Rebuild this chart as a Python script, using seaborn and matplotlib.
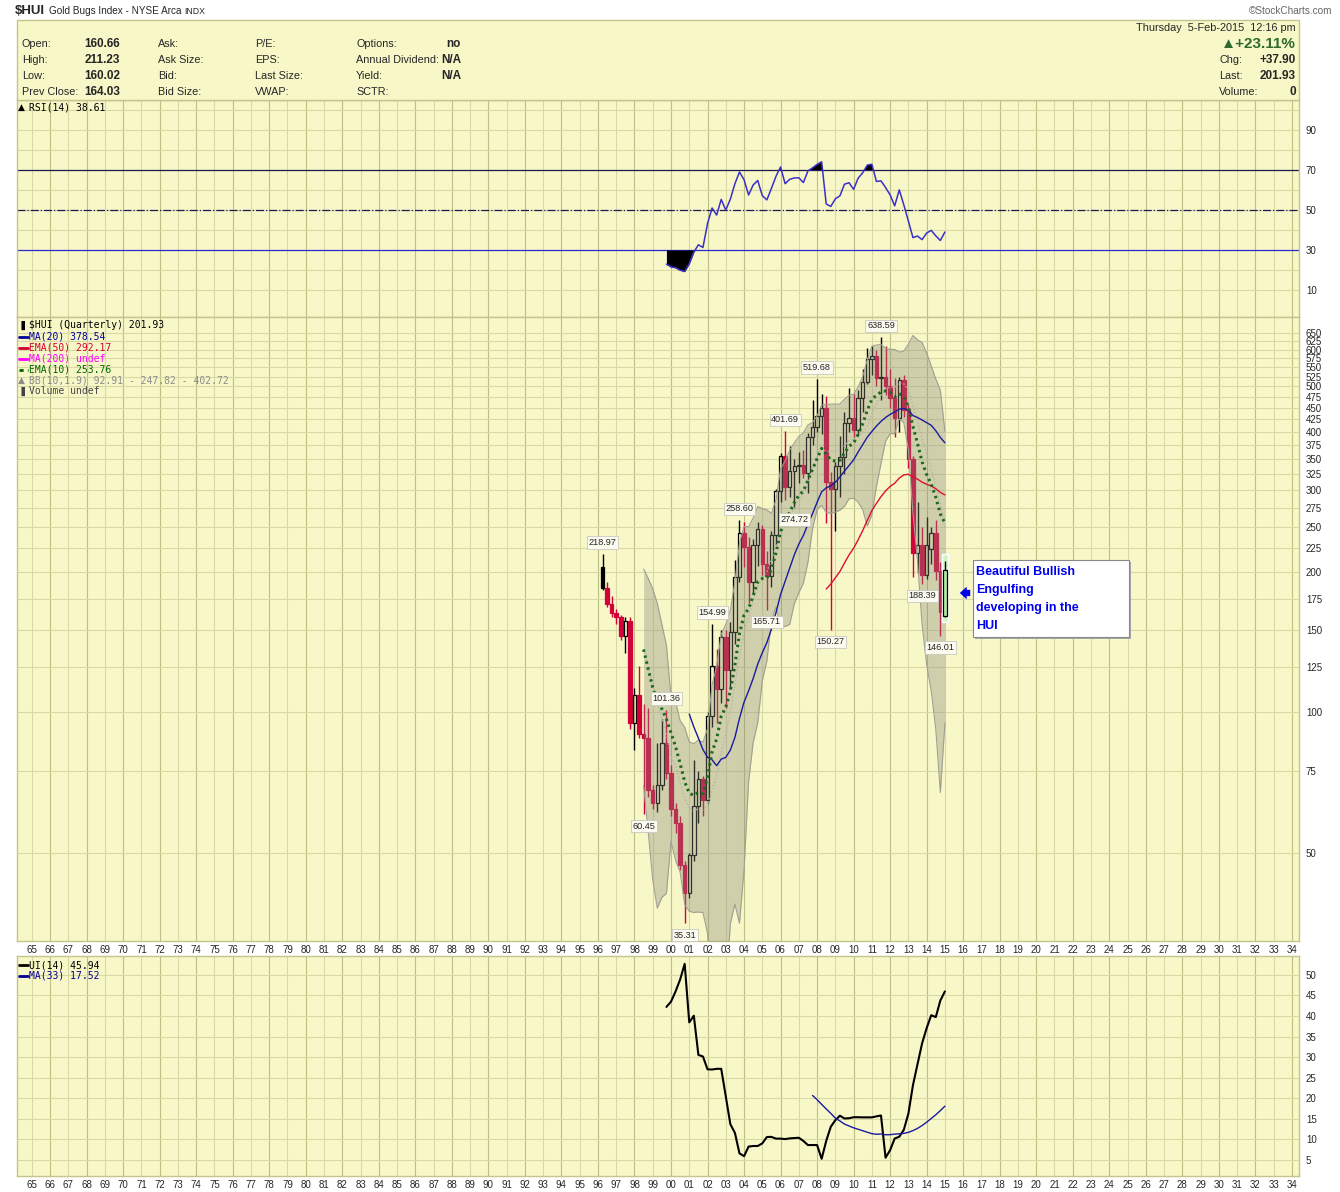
import numpy as np
import pandas as pd
import seaborn as sns
import matplotlib.pyplot as plt
from matplotlib.lines import Line2D
from matplotlib.patches import Rectangle

# Quarterly $HUI candles, 1996 Q2 .. 2015 Q1
quarters = pd.period_range('1996Q2', '2015Q1', freq='Q')

opens = [205, 185, 171, 163, 160, 146, 157, 95, 109, 90,
         88, 68, 64, 70, 86, 74, 62, 58, 47, 41,
         49.5, 63, 72, 65, 98, 126, 112, 145, 123, 149,
         195, 242, 226, 190, 228, 247, 208, 196, 240, 298,
         355, 305, 330, 338, 339, 326, 390, 409, 432, 450,
         312, 301, 338, 353, 418, 427, 404, 472, 510, 573,
         580, 520, 524, 500, 472, 427, 515, 445, 350, 220,
         228, 197, 224, 242, 201, 160.66]
highs = [218.97, 190, 178, 167, 162, 160, 160, 113, 126, 104,
         102, 70, 86, 97, 101.36, 77, 64, 60, 48, 50,
         79, 75, 73, 100, 154.99, 137, 150, 150, 156, 212,
         258.60, 256, 238, 235, 256, 252, 222, 245, 302, 360,
         401.69, 372, 350, 362, 365, 398, 468, 519.68, 482, 476,
         328, 345, 392, 440, 495, 482, 492, 545, 605, 610,
         600, 638.59, 610, 545, 520, 525, 530, 458, 355, 282,
         250, 262, 250, 258, 210, 211.23]
lows = [183, 168, 160, 155, 143, 134, 92, 83, 88, 60.45,
        66, 62, 61, 68, 72, 60, 55, 46, 35.31, 40,
        48, 58, 60, 64, 93, 95, 105, 102, 112, 140,
        190, 205, 172, 180, 206, 195, 165.71, 186, 228, 282,
        285, 290, 274.72, 310, 318, 295, 375, 400, 395, 255,
        150.27, 245, 290, 325, 400, 390, 392, 440, 505, 530,
        500, 468, 480, 450, 390, 400, 430, 335, 195, 199,
        188.39, 193, 208, 192, 146.01, 160.02]
closes = [185, 171, 163, 160, 146, 157, 95, 109, 90, 88,
          68, 64, 70, 86, 74, 62, 58, 47, 41, 49.5,
          63, 72, 65, 98, 126, 112, 145, 123, 149, 195,
          242, 226, 190, 228, 247, 208, 196, 240, 298, 355,
          305, 330, 338, 339, 326, 390, 409, 432, 450, 312,
          301, 338, 353, 418, 427, 404, 472, 510, 573, 580,
          520, 524, 500, 472, 427, 515, 445, 350, 220, 228,
          197, 229, 242, 201, 164.03, 201.93]

# candles whose high / low carry a value tag
high_marks = [0, 14, 24, 30, 40, 47, 61]
low_marks = [9, 18, 36, 42, 50, 70, 74]

price_ticks = [50, 75, 100, 125, 150, 175, 200, 225, 250, 275, 300, 325, 350,
               375, 400, 425, 450, 475, 500, 525, 550, 575, 600, 625, 650]
rsi_ticks = [10, 30, 50, 70, 90]
ui_ticks = [5, 10, 15, 20, 25, 30, 35, 40, 45, 50]
years = list(range(1965, 2035))

header_left = [
    [('Open:', 22, False), ('160.66', 120, True), ('Ask:', 158, False), ('P/E:', 255, False),
     ('Options:', 356, False), ('no', 461, True)],
    [('High:', 22, False), ('211.23', 120, True), ('Ask Size:', 158, False), ('EPS:', 255, False),
     ('Annual Dividend:', 356, False), ('N/A', 461, True)],
    [('Low:', 22, False), ('160.02', 120, True), ('Bid:', 158, False), ('Last Size:', 255, False),
     ('Yield:', 356, False), ('N/A', 461, True)],
    [('Prev Close:', 22, False), ('164.03', 120, True), ('Bid Size:', 158, False), ('VWAP:', 255, False),
     ('SCTR:', 356, False)],
]
header_right = [('Chg:', '+37.90'), ('Last:', '201.93'), ('Volume:', '0')]

BG = '#f8f7c8'
GRID = '#d9d9a6'
GRID_MAJOR = '#bcc082'
EDGE = '#c4c48c'
RED = '#d4003a'

# ---- indicators (StockCharts style) ----
df = pd.DataFrame({'x': [p.year + (p.quarter - 1) / 4 for p in quarters],
                   'open': opens, 'high': highs, 'low': lows, 'close': closes})
c = df['close']


def ema(s, n):
    out = pd.Series(np.nan, index=s.index)
    out.iloc[n - 1] = s.iloc[:n].mean()
    k = 2 / (n + 1)
    for i in range(n, len(s)):
        out.iloc[i] = s.iloc[i] * k + out.iloc[i - 1] * (1 - k)
    return out


df['ma20'] = c.rolling(20).mean()
df['ema50'] = ema(c, 50)
df['ema10'] = ema(c, 10)
df['bb_mid'] = c.rolling(10).mean()
sd = c.rolling(10).std(ddof=0)
df['bb_up'] = df['bb_mid'] + 1.9 * sd
df['bb_lo'] = df['bb_mid'] - 1.9 * sd

# RSI(14), Wilder smoothing
delta = c.diff()
gain = delta.clip(lower=0)
loss = -delta.clip(upper=0)
ag = pd.Series(np.nan, index=c.index)
al = pd.Series(np.nan, index=c.index)
ag.iloc[14] = gain.iloc[1:15].mean()
al.iloc[14] = loss.iloc[1:15].mean()
for i in range(15, len(c)):
    ag.iloc[i] = (ag.iloc[i - 1] * 13 + gain.iloc[i]) / 14
    al.iloc[i] = (al.iloc[i - 1] * 13 + loss.iloc[i]) / 14
df['rsi'] = 100 - 100 / (1 + ag / al)

# Ulcer index(14): drawdown from the running high inside each 14-bar window
cv = c.values
ui = np.full(len(cv), np.nan)
for i in range(14, len(cv)):
    w = cv[i - 13:i + 1]
    dd = 100 * (w / np.maximum.accumulate(w) - 1)
    ui[i] = np.sqrt(np.mean(dd ** 2))
df['ui'] = ui
df['ui_ma'] = df['ui'].rolling(33).mean()

# ---- figure ----
sns.set_style('white')
plt.rcParams['font.family'] = ['Liberation Sans', 'DejaVu Sans']
W, H = 1340, 1192
fig = plt.figure(figsize=(W / 100, H / 100), dpi=100)
fig.patch.set_facecolor('white')


def fx(x):
    return x / W


def fy(y):
    return 1 - y / H


def box(top, bottom, left=16.5, right=1299):
    return [fx(left), fy(bottom), (right - left) / W, (bottom - top) / H]


# header panel
fig.add_artist(Rectangle((fx(16.5), fy(99.5)), (1299 - 16.5) / W, (99.5 - 20) / H,
                         transform=fig.transFigure, facecolor=BG, edgecolor=EDGE, lw=1))
fig.text(fx(15), fy(11), '$HUI', fontsize=9.5, fontweight='bold', va='center')
fig.text(fx(49), fy(11), 'Gold Bugs Index - NYSE Arca', fontsize=7.2, va='center')
fig.text(fx(184), fy(11.5), 'INDX', fontsize=6.3, va='center')
fig.text(fx(1332), fy(11), '\u00a9StockCharts.com', fontsize=7.2, color='#666666',
         ha='right', va='center')
for row, yy in zip(header_left, [44, 60, 76, 92]):
    for txt, xx, bold in row:
        fig.text(fx(xx), fy(yy), txt, fontsize=8.5 if bold else 7.8,
                 fontweight='bold' if bold else 'normal',
                 ha='right' if bold else 'left', va='center')
fig.text(fx(1296), fy(28), 'Thursday  5-Feb-2015  12:16 pm', fontsize=7.8, ha='right', va='center')
fig.text(fx(1296), fy(44), '\u25b2+23.11%', fontsize=11, fontweight='bold', color='#2f6b2f',
         ha='right', va='center')
for (lab, val), yy in zip(header_right, [60, 76, 92]):
    fig.text(fx(1219), fy(yy), lab, fontsize=7.8, va='center')
    fig.text(fx(1296), fy(yy), val, fontsize=8.5, fontweight='bold', ha='right', va='center')

ax_rsi = fig.add_axes(box(99.5, 317))
ax = fig.add_axes(box(317, 941), sharex=ax_rsi)
ax_ui = fig.add_axes(box(956, 1176), sharex=ax_rsi)

ax.set_yscale('log')
ax.set_xlim(1964.16, 2034.39)
ax_rsi.set_ylim(-3.5, 105.25)
ax.set_ylim(32.34, 704.5)
ax_ui.set_ylim(1.1, 54.6)

for a in (ax_rsi, ax, ax_ui):
    a.set_facecolor(BG)
    for s in a.spines.values():
        s.set_color(EDGE)
        s.set_linewidth(1)
    for yr in years:
        a.axvline(yr, color=GRID_MAJOR if yr % 2 == 0 else GRID, lw=0.8, zorder=0.5)
    a.yaxis.tick_right()
    a.tick_params(axis='both', length=0, labelsize=7, pad=5)
    a.set_xticks(years)
    a.set_xticklabels(['%02d' % (yr % 100) for yr in years])

ax_rsi.tick_params(labelbottom=False)
ax.tick_params(axis='x', pad=3)
ax_ui.tick_params(axis='x', pad=3)

# ---- RSI panel ----
for v in range(10, 101, 10):
    ax_rsi.axhline(v, color=GRID, lw=0.8, zorder=0.5)
ax_rsi.set_yticks(rsi_ticks)
ax_rsi.set_yticklabels([str(v) for v in rsi_ticks])
ax_rsi.axhline(70, color='#1c1c50', lw=0.9, zorder=1)
ax_rsi.axhline(50, color='#1c1c50', lw=0.9, ls='-.', zorder=1)
ax_rsi.axhline(30, color='#2a2ad0', lw=0.9, zorder=1)
r = df.dropna(subset=['rsi'])
ax_rsi.fill_between(r['x'], r['rsi'], 70, where=r['rsi'] > 70, interpolate=True,
                    color='black', lw=0, zorder=2)
ax_rsi.fill_between(r['x'], r['rsi'], 30, where=r['rsi'] < 30, interpolate=True,
                    color='black', lw=0, zorder=2)
sns.lineplot(data=r, x='x', y='rsi', ax=ax_rsi, color='#3a30c8', lw=1.1, zorder=3)

# ---- price panel ----
for v in price_ticks:
    ax.axhline(v, color=GRID, lw=0.8, zorder=0.5)
ax.set_yticks(price_ticks)
ax.set_yticklabels([str(v) for v in price_ticks])
ax.yaxis.set_minor_locator(plt.NullLocator())

x = df['x'].values
o, h, l, cl = (df[k].values for k in ('open', 'high', 'low', 'close'))
prev = np.r_[cl[0], cl[:-1]]
col = np.where(cl >= prev, 'black', RED)
top = np.maximum(o, cl)
bot = np.minimum(o, cl)
hollow = cl > o
face = np.where(hollow, 'none', col).tolist()

# current-quarter highlight
ax.bar(x[-1], h[-1] * 1.035 - l[-1] * 0.975, bottom=l[-1] * 0.975, width=0.34,
       color='#d2f6c0', zorder=3.5)

ax.vlines(x[:-1], top[:-1], h[:-1], colors=col[:-1], lw=1, zorder=2)
ax.vlines(x[:-1], l[:-1], bot[:-1], colors=col[:-1], lw=1, zorder=2)
ax.vlines(x[-1:], l[-1:], h[-1:], colors='black', lw=1, zorder=3.6)
ax.bar(x[:-1], np.maximum(top - bot, 0.6)[:-1], bottom=bot[:-1], width=0.19,
       color=face[:-1], edgecolor=col[:-1], lw=0.9, zorder=2.2)
ax.bar(x[-1], top[-1] - bot[-1], bottom=bot[-1], width=0.19, color='#b4eea0',
       edgecolor='black', lw=0.9, zorder=3.7)

b = df.dropna(subset=['bb_up'])
ax.fill_between(b['x'], b['bb_lo'], b['bb_up'], color='#8a8a7c', alpha=0.36, lw=0, zorder=3)
ax.plot(b['x'], b['bb_up'], color='#a0a092', lw=0.8, zorder=3.1)
ax.plot(b['x'], b['bb_lo'], color='#a0a092', lw=0.8, zorder=3.1)
sns.lineplot(data=b, x='x', y='bb_mid', ax=ax, color='#b4b4a8', lw=1, ls=(0, (1, 1.5)), zorder=3.2)
sns.lineplot(data=df.dropna(subset=['ma20']), x='x', y='ma20', ax=ax, color='#1a1aa0', lw=1, zorder=4)
sns.lineplot(data=df.dropna(subset=['ema50']), x='x', y='ema50', ax=ax, color='#dd1030', lw=1, zorder=4)
sns.lineplot(data=df.dropna(subset=['ema10']), x='x', y='ema10', ax=ax, color='#1d6a1d', lw=2.2,
             ls=(0, (0.8, 1.2)), zorder=4.2)

tag = dict(fontsize=6.6, ha='center', va='center', zorder=6,
           bbox=dict(boxstyle='square,pad=0.18', fc='#fbfbf0', ec='#c8c8c0', lw=0.6))
for i in high_marks:
    ax.annotate('%.2f' % h[i], (x[i], h[i]), xytext=(0, 8), textcoords='offset points', **tag)
for i in low_marks:
    ax.annotate('%.2f' % l[i], (x[i], l[i]), xytext=(0, -8.5), textcoords='offset points', **tag)

# ---- Ulcer index panel ----
for v in ui_ticks:
    ax_ui.axhline(v, color=GRID, lw=0.8, zorder=0.5)
ax_ui.set_yticks(ui_ticks)
ax_ui.set_yticklabels([str(v) for v in ui_ticks])
sns.lineplot(data=df.dropna(subset=['ui']), x='x', y='ui', ax=ax_ui, color='black', lw=1.5, zorder=3)
sns.lineplot(data=df.dropna(subset=['ui_ma']), x='x', y='ui_ma', ax=ax_ui, color='#1a1aa0', lw=1, zorder=3)

for a in (ax_rsi, ax, ax_ui):
    a.set_xlabel('')
    a.set_ylabel('')

# ---- legends ----
mono = ['DejaVu Sans Mono']


def legend_row(y, text, color, marker='line'):
    if marker == 'line':
        fig.add_artist(Line2D([fx(19), fx(28)], [fy(y), fy(y)], color=color, lw=2,
                              transform=fig.transFigure))
    elif marker == 'dash':
        fig.add_artist(Line2D([fx(19), fx(28)], [fy(y), fy(y)], color=color, lw=2,
                              ls=(0, (1.5, 1.5)), transform=fig.transFigure))
    elif marker:
        fig.text(fx(18), fy(y), marker, fontsize=6.5, color=color, va='center',
                 family=['DejaVu Sans'])
    fig.text(fx(29), fy(y), text, fontsize=7, color=color, va='center', family=mono)


legend_row(107, 'RSI(14) 38.61', 'black', marker='\u25b2')
legend_row(325.5, '$HUI (Quarterly) 201.93', 'black', marker='\u2590')
legend_row(336.5, 'MA(20) 378.54', '#000099')
legend_row(347.5, 'EMA(50) 292.17', '#d40030')
legend_row(358.5, 'MA(200) undef', '#ff00ff')
legend_row(369.5, 'EMA(10) 253.76', '#006400', marker='dash')
legend_row(380.5, 'BB(10,1.9) 92.91 - 247.82 - 402.72', '#8c8c8c', marker='\u25b2')
legend_row(391, 'Volume undef', '#444444', marker='\u2590')
legend_row(965, 'UI(14) 45.94', 'black')
legend_row(976, 'MA(33) 17.52', '#000099')

# ---- callout ----
fig.add_artist(Rectangle((fx(975), fy(639)), 156 / W, 77 / H, transform=fig.transFigure,
                         facecolor='#a8a8a8', edgecolor='none', zorder=9))
fig.add_artist(Rectangle((fx(973), fy(637)), 156 / W, 77 / H, transform=fig.transFigure,
                         facecolor='white', edgecolor='#888888', lw=0.8, zorder=10))
for yy, line in zip([572, 590, 608, 626], ['Beautiful Bullish', 'Engulfing',
                                            'developing in the', 'HUI']):
    fig.text(fx(976), fy(yy), line, fontsize=9, fontweight='bold', color='#0000ee',
             va='center', zorder=11)
ax.annotate('', xy=(957, H - 593), xycoords='figure pixels', xytext=(973, H - 593),
            textcoords='figure pixels', zorder=11, annotation_clip=False,
            arrowprops=dict(arrowstyle='simple,head_width=0.9,head_length=0.5,tail_width=0.45',
                            color='#0000ee', lw=0))

fig.savefig('out.png', dpi=100, facecolor='white')
